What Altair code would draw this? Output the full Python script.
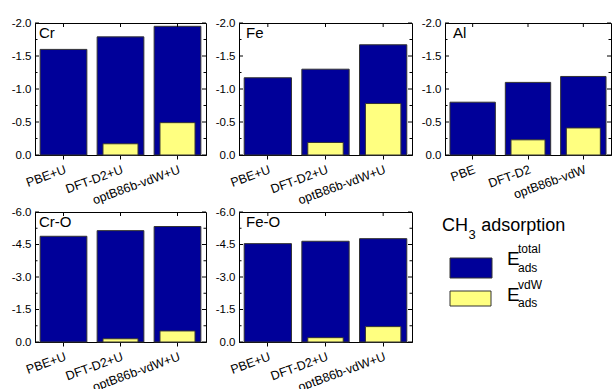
import altair as alt
import pandas as pd

# ---------------- data ----------------
methods_u = ["PBE+U", "DFT-D2+U", "optB86b-vdW+U"]
methods_al = ["PBE", "DFT-D2", "optB86b-vdW"]

cr_total = [-1.60, -1.79, -1.95]
cr_vdw = [None, -0.17, -0.49]
fe_total = [-1.17, -1.30, -1.67]
fe_vdw = [None, -0.19, -0.78]
al_total = [-0.80, -1.10, -1.19]
al_vdw = [None, -0.23, -0.41]
cro_total = [-4.88, -5.14, -5.33]
cro_vdw = [None, -0.15, -0.51]
feo_total = [-4.54, -4.65, -4.77]
feo_vdw = [None, -0.20, -0.71]

major_small = [-2.0, -1.5, -1.0, -0.5, 0.0]
minor_small = [-1.75, -1.25, -0.75, -0.25]
major_large = [-6.0, -4.5, -3.0, -1.5, 0.0]
minor_large = [-5.25, -3.75, -2.25, -0.75]

BLUE = "#000099"
YELLOW = "#FFFF80"
EDGE = "#333333"
FONT = "Liberation Sans"

LABEL_EXPR = "datum.value < 0 ? '-' + format(-datum.value, '.1f') : format(datum.value, '.1f')"


def panel(name, methods, total, vdw, dmin, major, minor, w, h, tx):
    df = pd.DataFrame({"method": methods, "total": total, "vdw": vdw})
    xs = alt.Scale(domain=methods, paddingInner=0.18, paddingOuter=0.09)
    ys = alt.Scale(domain=[dmin, 0], reverse=True, nice=False, zero=True)
    xaxis = alt.Axis(title=None, labelAngle=-20, labelFontSize=12.5, labelFont=FONT,
                     labelColor="black", tickSize=4, tickColor="black",
                     domainColor="black", labelPadding=4, labelOverlap=False)
    yaxis = alt.Axis(title=None, values=major, ticks=False, labelExpr=LABEL_EXPR,
                     labelFontSize=11.5, labelFont=FONT, labelColor="black",
                     domainColor="black", labelPadding=4, grid=False,
                     labelOverlap=False, labelFlush=False, tickCount=len(major))

    def X():
        return alt.X("method:N", scale=xs, sort=methods, title=None, axis=xaxis)

    def Y(f):
        return alt.Y(f, scale=ys, title=None, axis=yaxis)

    base = alt.Chart(df)
    total_bar = base.mark_bar(color=BLUE, stroke=EDGE, strokeWidth=1).encode(
        x=X(), y=Y("total:Q"))
    vdw_bar = base.transform_filter("isValid(datum.vdw)").mark_bar(
        color=YELLOW, stroke=EDGE, strokeWidth=1, width=alt.RelativeBandSize(0.75)
    ).encode(x=X(), y=Y("vdw:Q"))
    maj = pd.DataFrame({"v": major})
    mino = pd.DataFrame({"v": minor})
    rules = []
    for d, ln in ((maj, 4), (mino, 2.5)):
        rules.append(alt.Chart(d).mark_rule(color="black", strokeWidth=1).encode(
            y=Y("v:Q"), x=alt.value(0), x2=alt.value(ln)))
        rules.append(alt.Chart(d).mark_rule(color="black", strokeWidth=1).encode(
            y=Y("v:Q"), x=alt.value(w - ln), x2=alt.value(w)))
    top_ticks = base.mark_rule(color="black", strokeWidth=1).encode(
        x=X(), y=alt.value(0), y2=alt.value(4))
    label = alt.Chart(pd.DataFrame({"t": [name]})).mark_text(
        align="left", baseline="top", fontSize=15, font=FONT, color="black"
    ).encode(text="t:N", x=alt.value(tx), y=alt.value(3))
    return alt.layer(total_bar, vdw_bar, *rules, top_ticks, label).properties(
        width=w, height=h,
        view=alt.ViewBackground(stroke="black", strokeWidth=1),
    )


cr = panel("Cr", methods_u, cr_total, cr_vdw, -2.0, major_small, minor_small, 171, 132, 4)
fe = panel("Fe", methods_u, fe_total, fe_vdw, -2.0, major_small, minor_small, 173, 132, 7)
al = panel("Al", methods_al, al_total, al_vdw, -2.0, major_small, minor_small, 166, 132, 8)
cro = panel("Cr-O", methods_u, cro_total, cro_vdw, -6.0, major_large, minor_large, 171, 130, 4)
feo = panel("Fe-O", methods_u, feo_total, feo_vdw, -6.0, major_large, minor_large, 173, 130, 7)

# ---------------- legend panel ----------------
series = ["total", "vdW"]
one = pd.DataFrame({"k": [0]})
DX = -2


def txt(s, x, y, size, align="left"):
    return alt.Chart(one).mark_text(
        align=align, baseline="alphabetic", fontSize=size, font=FONT, color="black"
    ).encode(x=alt.value(x + DX), y=alt.value(y), text=alt.value(s))


def swatch(color, x1, x2, y1, y2):
    return alt.Chart(one).mark_rect(fill=color, stroke=EDGE, strokeWidth=1, opacity=1).encode(
        x=alt.value(x1 + DX), x2=alt.value(x2 + DX), y=alt.value(y1), y2=alt.value(y2))


legend = alt.layer(
    txt("CH", -1, 19, 18),
    txt("3", 25.5, 26.5, 13),
    txt("adsorption", 38.3, 19, 18),
    swatch(BLUE, 7, 49, 46, 66),
    swatch(YELLOW, 7, 48, 79, 94),
    txt("E", 64, 53, 19),
    txt(series[0], 75, 41, 12),
    txt("ads", 75, 59.5, 12),
    txt("E", 64, 89, 19),
    txt(series[1], 75, 76.5, 12),
    txt("ads", 75, 95, 12),
).properties(width=140, height=130, view=alt.ViewBackground(stroke="transparent"))

chart = alt.concat(
    cr, fe, al, cro, feo, legend,
    columns=3, spacing={"row": 57, "column": 33}, bounds="flush",
).properties(
    padding={"left": 10, "top": 16, "right": 0, "bottom": 0},
    background="white",
).configure_view(stroke="black")

chart.save("out.html", embed_options={"renderer": "svg", "actions": False})
